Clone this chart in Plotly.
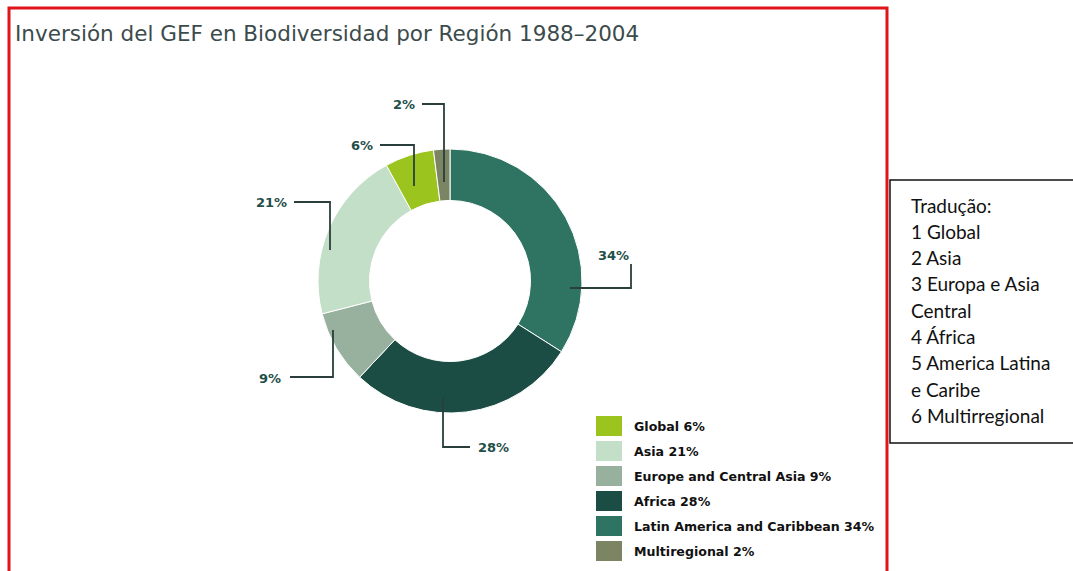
import plotly.graph_objects as go

W, H = 1073, 571

title = "Inversión del GEF en Biodiversidad por Región 1988–2004"
regions = ["Global", "Asia", "Europe and Central Asia", "Africa",
           "Latin America and Caribbean", "Multiregional"]
shares = [6, 21, 9, 28, 34, 2]
colors = ["#9cc41e", "#c4dfc8", "#98b19f", "#1c4d45", "#2f7362", "#7b8563"]
translation = ["Tradução:", "1 Global", "2 Asia", "3 Europa e Asia", "Central",
               "4 África", "5 America Latina", "e Caribe", "6 Multirregional"]

# clockwise order of slices from 12 o'clock
pie_order = [4, 3, 2, 1, 0, 5]


def P(x, y):
    return x / W, 1 - y / H


cx, cy, R = 450, 281, 132

fig = go.Figure()
fig.add_trace(go.Pie(
    labels=[regions[i] for i in pie_order],
    values=[shares[i] for i in pie_order],
    marker=dict(colors=[colors[i] for i in pie_order], line=dict(color="white", width=1)),
    sort=False, direction="clockwise", rotation=0, hole=0.61,
    textinfo="none", hoverinfo="label+percent",
    domain=dict(x=[(cx - R) / W, (cx + R) / W],
                y=[(H - cy - R) / H, (H - cy + R) / H]),
    showlegend=False,
))

shapes = []
annotations = []

# red frame
x0, y0 = P(9, 8)
x1, y1 = P(887, 575)
shapes.append(dict(type="rect", xref="paper", yref="paper", x0=x0, y0=y0, x1=x1, y1=y1,
                   line=dict(color="#e0141b", width=3)))
# translation box
bx0, by0 = P(890, 180)
bx1, by1 = P(1080, 443)
shapes.append(dict(type="rect", xref="paper", yref="paper", x0=bx0, y0=by0, x1=bx1, y1=by1,
                   line=dict(color="#111111", width=1.5)))

# title
tx, ty = P(13, 34)
annotations.append(dict(text=title, x=tx, y=ty, xref="paper", yref="paper",
                        xanchor="left", yanchor="middle", showarrow=False,
                        font=dict(family="DejaVu Sans", size=21.5, color="#3c4b4c")))

# percentage labels with leader lines (label pos, path points)
label_layout = {
    "Multiregional": ((404, 104), [(422, 104), (444, 104), (444, 182)]),
    "Global": ((362, 145), [(380, 145), (414, 145), (414, 186)]),
    "Asia": ((271, 202), [(294, 202), (330, 202), (330, 250)]),
    "Europe and Central Asia": ((270, 378), [(290, 377), (333, 377), (333, 330)]),
    "Africa": ((493, 447), [(470, 447), (443, 447), (443, 398)]),
    "Latin America and Caribbean": ((613, 255), [(631, 264), (631, 288), (570, 288)]),
}
for name, val in zip(regions, shares):
    (lx, ly), pts = label_layout[name]
    ax, ay = P(lx, ly)
    annotations.append(dict(text=f"<b>{val}%</b>", x=ax, y=ay, xref="paper", yref="paper",
                            xanchor="center", yanchor="middle", showarrow=False,
                            font=dict(family="DejaVu Sans", size=13, color="#1f4f48")))
    path = ""
    for i, (px_, py_) in enumerate(pts):
        qx, qy = P(px_, py_)
        path += ("M" if i == 0 else " L") + f" {qx:.5f} {qy:.5f}"
    shapes.append(dict(type="path", xref="paper", yref="paper", path=path,
                       line=dict(color="#2a3f3c", width=1.8)))

# custom legend
for i, (name, val, col) in enumerate(zip(regions, shares, colors)):
    yy = 426 + 25 * i
    sx0, sy0 = P(596, yy - 10)
    sx1, sy1 = P(622, yy + 10)
    shapes.append(dict(type="rect", xref="paper", yref="paper", x0=sx0, y0=sy0, x1=sx1, y1=sy1,
                       fillcolor=col, line=dict(width=0)))
    ax, ay = P(632, yy)
    annotations.append(dict(text=f"<b>{name} {val}%</b>", x=ax, y=ay, xref="paper", yref="paper",
                            xanchor="left", yanchor="middle", showarrow=False,
                            font=dict(family="DejaVu Sans", size=12.6, color="#111111")))

# translation text
for i, line in enumerate(translation):
    ax, ay = P(909, 205 + 26.3 * i)
    annotations.append(dict(text=line, x=ax, y=ay, xref="paper", yref="paper",
                            xanchor="left", yanchor="middle", showarrow=False,
                            font=dict(family="Lato", size=19, color="#111111")))

fig.update_layout(
    width=W, height=H, margin=dict(l=0, r=0, t=0, b=0),
    paper_bgcolor="white", plot_bgcolor="white",
    shapes=shapes, annotations=annotations,
)

fig.write_html("out.html")
